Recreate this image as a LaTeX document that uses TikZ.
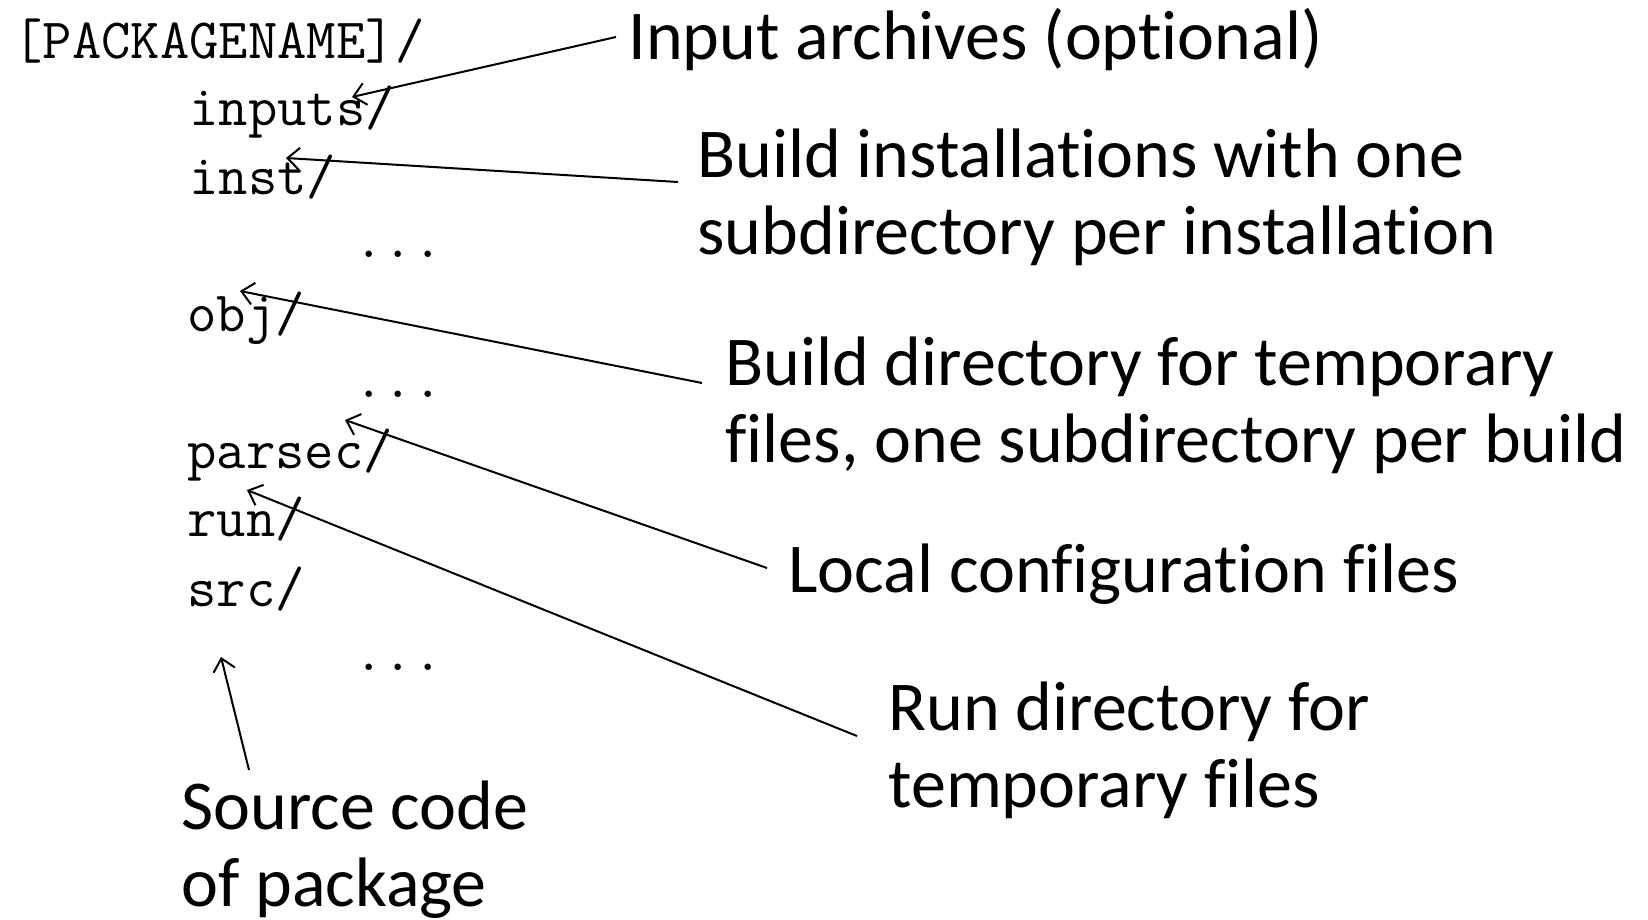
\documentclass[tikz,border=0pt]{standalone}
\usepackage{fontspec}
\newfontfamily\labelfont{Carlito}[Ligatures={NoCommon}]
\usetikzlibrary{arrows.meta}
\tikzset{
  dir/.style={anchor=base west, inner sep=0pt, font=\fontsize{28.5}{31}\selectfont\ttfamily},
  % multi-line notes are anchored at the baseline of their last line
  note/.style={anchor=base west, inner sep=0pt, align=left, font=\fontsize{35}{38.5}\selectfont\labelfont},
  pointer/.style={draw=black, line width=1pt, -{Straight Barb[length=6pt,width=11pt,line width=1pt]}}
}
\begin{document}
\begin{tikzpicture}[x=0.5pt,y=-0.5pt]
  \useasboundingbox (0,0) rectangle (1648,920);
  % directory tree
  \node[dir] (root)   at (13,59)   {[PACKAGENAME]/};
  \node[dir] (inputs) at (189,126) {inputs/};
  \node[dir] (inst)   at (189,194) {inst/};
  \node[dir] (dotsA)  at (354,257) {...};
  \node[dir] (obj)    at (187,331) {obj/};
  \node[dir] (dotsB)  at (354,397) {...};
  \node[dir] (parsec) at (187,468) {parsec/};
  \node[dir] (run)    at (187,536) {run/};
  \node[dir] (src)    at (187,606) {src/};
  \node[dir] (dotsC)  at (354,670) {...};
  % explanations
  \node[note] (nInputs) at (628,60)  {Input archives (optional)};
  \node[note] (nInst)   at (697,254) {Build installations with one\\subdirectory per installation};
  \node[note] (nObj)    at (725,462) {Build directory for temporary\\files, one subdirectory per build};
  \node[note] (nParsec) at (788,592) {Local configuration files};
  \node[note] (nRun)    at (888,807) {Run directory for\\temporary files};
  \node[note] (nSrc)    at (181,906) {Source code\\of package};
  % arrow ends
  \coordinate (sInputs) at (616,37);   \coordinate (tInputs) at (352,97);
  \coordinate (sInst)   at (678,182);  \coordinate (tInst)   at (286,158);
  \coordinate (sObj)    at (702,383);  \coordinate (tObj)    at (240,291);
  \coordinate (sParsec) at (767,568);  \coordinate (tParsec) at (345,420);
  \coordinate (sRun)    at (857,736);  \coordinate (tRun)    at (247,490);
  \coordinate (sSrc)    at (249,770);  \coordinate (tSrc)    at (221,657);
  \draw[pointer] (sInputs) -- (tInputs);
  \draw[pointer] (sInst) -- (tInst);
  \draw[pointer] (sObj) -- (tObj);
  \draw[pointer] (sParsec) -- (tParsec);
  \draw[pointer] (sRun) -- (tRun);
  \draw[pointer] (sSrc) -- (tSrc);
\end{tikzpicture}
\end{document}
